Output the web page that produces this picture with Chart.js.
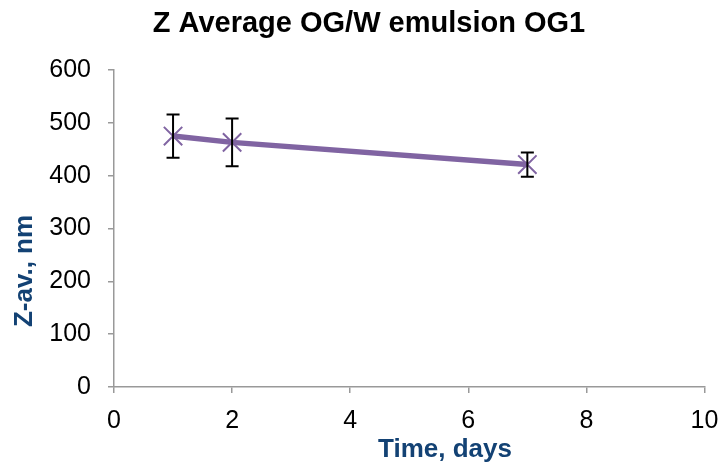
<!DOCTYPE html>
<html>
<head>
<meta charset="utf-8">
<script src="https://cdn.jsdelivr.net/npm/chart.js@4"></script>
<style>
    html, body { margin: 0; padding: 0; background: #fff; }
    #wrap { width: 726px; height: 465px; }
</style>
</head>
<body>
<div id="wrap"><canvas id="zavChart" width="726" height="465"></canvas></div>
<script>
// Chart data
const days = [1, 2, 7];
const zAverage = [475, 463, 421];
const zError = [41, 45, 23];
const xTicks = [0, 2, 4, 6, 8, 10];
const yTicks = [0, 100, 200, 300, 400, 500, 600];

const chartTitle = 'Z Average OG/W emulsion OG1';
const xTitle = 'Time, days';
const yTitle = 'Z-av., nm';

const FONT = '"Liberation Sans", Arial, sans-serif';
const AXIS_GREY = '#999999';
const TITLE_BLUE = '#134274';
const LINE_PURPLE = '#8064A2';

// Error bars drawn from the data through the scales
const errorBarPlugin = {
    id: 'errorBars',
    afterDatasetsDraw(chart) {
        const { ctx, scales } = chart;
        ctx.save();
        ctx.strokeStyle = '#000';
        ctx.lineWidth = 2;
        days.forEach((d, i) => {
            const x = scales.x.getPixelForValue(d);
            const yTop = scales.y.getPixelForValue(zAverage[i] + zError[i]);
            const yBot = scales.y.getPixelForValue(zAverage[i] - zError[i]);
            ctx.beginPath();
            ctx.moveTo(x, yTop);
            ctx.lineTo(x, yBot);
            ctx.moveTo(x - 6.5, yTop);
            ctx.lineTo(x + 6.5, yTop);
            ctx.moveTo(x - 6.5, yBot);
            ctx.lineTo(x + 6.5, yBot);
            ctx.stroke();
        });
        ctx.restore();
    },
};

// Titles placed like the original (offset from plot centre)
const titlesPlugin = {
    id: 'titles',
    afterDraw(chart) {
        const { ctx } = chart;
        ctx.save();
        ctx.textAlign = 'center';
        ctx.textBaseline = 'alphabetic';

        ctx.fillStyle = '#000';
        ctx.font = `bold 29px ${FONT}`;
        ctx.fillText(chartTitle, 369, 32);

        ctx.fillStyle = TITLE_BLUE;
        ctx.font = `bold 26px ${FONT}`;
        ctx.fillText(xTitle, 445, 457);

        ctx.translate(32, 271);
        ctx.rotate(-Math.PI / 2);
        ctx.fillText(yTitle, 0, 0);
        ctx.restore();
    },
};

new Chart(document.getElementById('zavChart').getContext('2d'), {
    type: 'scatter',
    data: {
        datasets: [
            {
                label: 'Z-av.',
                data: days.map((d, i) => ({ x: d, y: zAverage[i] })),
                showLine: true,
                borderColor: LINE_PURPLE,
                borderWidth: 5.5,
                pointStyle: 'crossRot',
                pointRadius: 13,
                pointBorderWidth: 2,
                pointBorderColor: LINE_PURPLE,
                pointBackgroundColor: LINE_PURPLE,
            },
        ],
    },
    options: {
        responsive: false,
        animation: false,
        layout: {
            padding: { top: 70, right: 21.5, bottom: 0, left: 0 },
        },
        plugins: {
            legend: { display: false },
            tooltip: { enabled: false },
            title: { display: false },
        },
        scales: {
            x: {
                type: 'linear',
                min: 0,
                max: 10,
                afterBuildTicks: (scale) => {
                    scale.ticks = xTicks.map((v) => ({ value: v }));
                },
                afterFit: (scale) => {
                    scale.height = 78;
                    scale.paddingLeft = 0;
                    scale.paddingRight = 0;
                },
                ticks: {
                    color: '#000',
                    font: { family: FONT, size: 25 },
                    padding: 13,
                    maxRotation: 0,
                },
                grid: {
                    drawOnChartArea: false,
                    drawTicks: true,
                    tickLength: 6,
                    color: AXIS_GREY,
                    lineWidth: 1.5,
                },
                border: { color: AXIS_GREY, width: 1.5 },
            },
            y: {
                type: 'linear',
                min: 0,
                max: 600,
                afterBuildTicks: (scale) => {
                    scale.ticks = yTicks.map((v) => ({ value: v }));
                },
                afterFit: (scale) => {
                    scale.width = 114;
                    scale.paddingTop = 0;
                    scale.paddingBottom = 0;
                },
                ticks: {
                    color: '#000',
                    font: { family: FONT, size: 25 },
                    padding: 17,
                },
                grid: {
                    drawOnChartArea: false,
                    drawTicks: true,
                    tickLength: 6,
                    color: AXIS_GREY,
                    lineWidth: 1.5,
                },
                border: { color: AXIS_GREY, width: 1.5 },
            },
        },
    },
    plugins: [errorBarPlugin, titlesPlugin],
});
</script>
</body>
</html>
